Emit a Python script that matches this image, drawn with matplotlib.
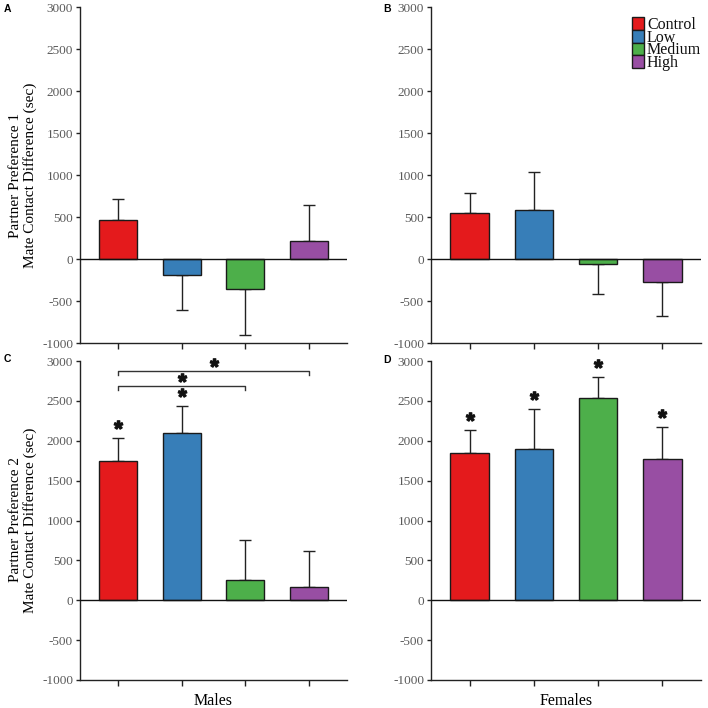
import numpy as np
import matplotlib.pyplot as plt
from matplotlib.patches import Rectangle
from matplotlib.textpath import TextPath
from matplotlib.font_manager import FontProperties
from matplotlib.path import Path

plt.rcParams['font.family'] = 'serif'
plt.rcParams['font.serif'] = ['Liberation Serif', 'DejaVu Serif']
plt.rcParams['axes.unicode_minus'] = False

### DATA ###
groups = ['Control', 'Low', 'Medium', 'High']
colors = ['#E41A1C', '#377EB8', '#4DAF4A', '#984EA3']

a_mean = [460, -190, -360, 220]
a_err = [260, 420, 540, 420]
b_mean = [550, 580, -55, -275]
b_err = [230, 460, 365, 405]
c_mean = [1745, 2100, 260, 160]
c_err = [290, 335, 490, 460]
d_mean = [1850, 1900, 2530, 1770]
d_err = [290, 500, 270, 400]

c_star = [0, 1]            # bars marked with * in C
d_star = [0, 1, 2, 3]      # bars marked with * in D
c_brackets = [(0, 3, 2870), (0, 2, 2685)]   # (from, to, height)

ylab1 = 'Partner Preference 1\nMate Contact Difference (sec)'
ylab2 = 'Partner Preference 2\nMate Contact Difference (sec)'

### STAR MARKER ###
tp = TextPath((0, 0), '*', prop=FontProperties(family='Liberation Sans', weight='bold'))
v = tp.vertices.copy()
v -= (v.min(axis=0) + v.max(axis=0)) / 2
star = Path(v, tp.codes)

fig = plt.figure(figsize=(7.08, 7.08), dpi=100)
W = H = 708.0

def make_ax(x0, x1, y0, y1):
    return fig.add_axes([x0 / W, 1 - y1 / H, (x1 - x0) / W, (y1 - y0) / H])

axA = make_ax(80, 347, 7, 343)
axB = make_ax(431, 701, 7, 343)
axC = make_ax(80, 347, 361, 680)
axD = make_ax(431, 701, 361, 680)

x = np.arange(len(groups))

def draw(ax, mean, err):
    mean = np.array(mean)
    err = np.array(err)
    lo = np.where(mean < 0, err, 0)
    hi = np.where(mean >= 0, err, 0)
    ax.errorbar(x, mean, yerr=[lo, hi], fmt='none', ecolor='#222222',
                elinewidth=1, capsize=4, capthick=1, zorder=1)
    ax.bar(x, mean, width=0.6, color=colors, edgecolor='#1a1a1a', linewidth=1, zorder=2)
    ax.axhline(0, color='#111111', lw=1, zorder=3)
    ax.set_xlim(-0.6, 3.6)
    ax.set_ylim(-1000, 3000)
    ax.set_yticks(np.arange(-1000, 3001, 500))
    ax.set_xticks(x)
    ax.set_xticklabels([])
    for s in ['top', 'right']:
        ax.spines[s].set_visible(False)
    for s in ['left', 'bottom']:
        ax.spines[s].set_color('#222222')
        ax.spines[s].set_linewidth(1)
    ax.tick_params(axis='y', length=3, width=1, color='#222222', labelsize=9.5,
                   labelcolor='#5a5a5a', pad=2)
    ax.tick_params(axis='x', length=4, width=1, color='#222222')

draw(axA, a_mean, a_err)
draw(axB, b_mean, b_err)
draw(axC, c_mean, c_err)
draw(axD, d_mean, d_err)

# significance stars above bars
for ax, mean, err, idx in [(axC, c_mean, c_err, c_star), (axD, d_mean, d_err, d_star)]:
    ys = [mean[i] + err[i] + 125 for i in idx]
    ax.plot(idx, ys, ls='none', marker=star, ms=11, color='#111111', zorder=4,
            clip_on=False)

# brackets in C
for i0, i1, h in c_brackets:
    axC.plot([i0, i0, i1, i1], [h - 45, h, h, h - 45], color='#333333', lw=1, zorder=4)
    axC.plot([(i0 + i1) / 2], [h + 65], marker=star, ms=11, color='#111111', zorder=4,
             clip_on=False)

axC.set_xlabel('Males', fontsize=11.5, labelpad=2)
axD.set_xlabel('Females', fontsize=11.5, labelpad=2)

fig.text(23 / W, 1 - 175 / H, ylab1, rotation=90, ha='center', va='center',
         fontsize=11, linespacing=1.15)
fig.text(23 / W, 1 - 520 / H, ylab2, rotation=90, ha='center', va='center',
         fontsize=11, linespacing=1.15)

# panel letters
for lab, px, py in [('A', 7.5, 9.5), ('B', 387.5, 9), ('C', 7.5, 358.5), ('D', 387.5, 360)]:
    fig.text(px / W, 1 - py / H, lab, ha='center', va='center', fontsize=7.5,
             fontweight='bold', family='Liberation Sans')

# legend in B
sq_w = 12.3 / 270
sq_h = 12.7 / 336
for k, (g, c) in enumerate(zip(groups, colors)):
    top = (343 - 17.3 - k * 12.7) / 336
    axB.add_patch(Rectangle((0.743, top - sq_h), sq_w, sq_h, transform=axB.transAxes,
                            facecolor=c, edgecolor='#1a1a1a', lw=1, clip_on=False, zorder=5))
    axB.text(0.800, top - sq_h + 0.003, g, transform=axB.transAxes, ha='left',
             va='baseline', fontsize=11.5, color='#111111')

fig.savefig('out.png', dpi=100)
